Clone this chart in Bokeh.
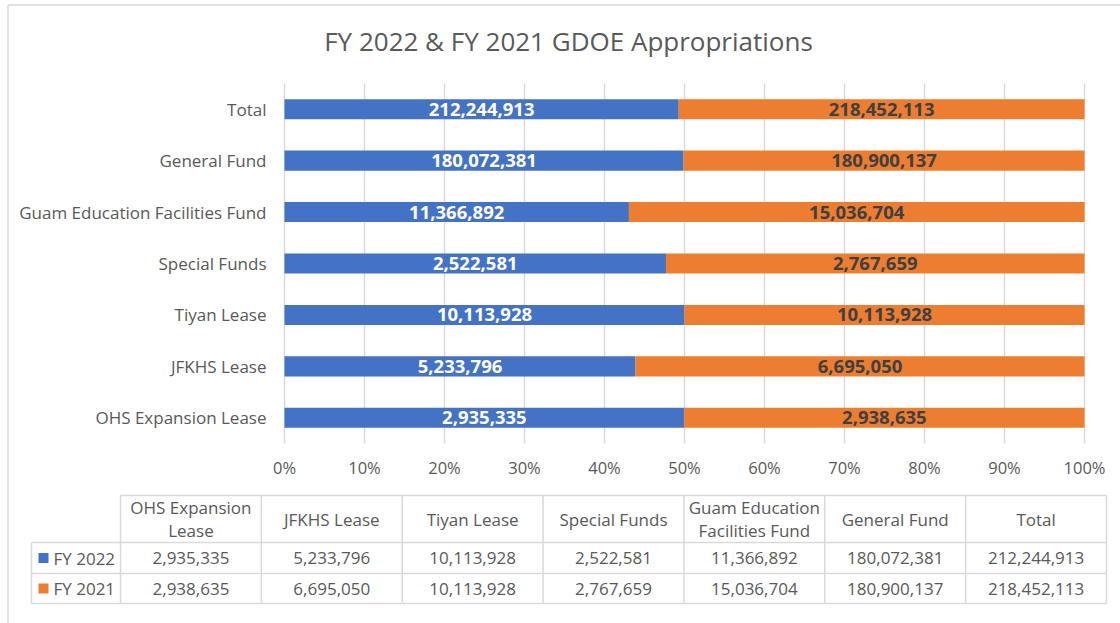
import textwrap
from bokeh.plotting import figure
from bokeh.models import ColumnDataSource, Range1d
from bokeh.core.properties import value
from bokeh.embed import file_html
from bokeh.resources import INLINE

# ---------------- data ----------------
categories = ["OHS Expansion Lease", "JFKHS Lease", "Tiyan Lease", "Special Funds",
              "Guam Education Facilities Fund", "General Fund", "Total"]
fy2022 = [2935335, 5233796, 10113928, 2522581, 11366892, 180072381, 212244913]
fy2021 = [2938635, 6695050, 10113928, 2767659, 15036704, 180900137, 218452113]
series_names = ["FY 2022", "FY 2021"]
pct_ticks = [0, 0.1, 0.2, 0.3, 0.4, 0.5, 0.6, 0.7, 0.8, 0.9, 1.0]
title_text = "FY 2022 & FY 2021 GDOE Appropriations"

# ---------------- styles ----------------
BLUE = "#4472C4"
ORANGE = "#ED7D31"
TXT = "#595959"
DARK = "#404040"
GRID = "#D9D9D9"
FONT = "Open Sans"

W, H = 1120, 623
FL, FR, FT, FB = 284, 1084, 83, 443  # plot area (pixels)
n = len(categories)
band = (FB - FT) / n


def px_x(px):
    """pixel -> share scale (0..1 spans the plot area)"""
    return (px - FL) / (FR - FL)


def px_y(py):
    """pixel -> category index scale"""
    return (FB - py) / band - 0.5


p = figure(width=W, height=H, x_range=Range1d(px_x(0), px_x(W)),
           y_range=Range1d(px_y(H), px_y(0)), output_backend="svg",
           toolbar_location=None, min_border=0)
p.axis.visible = False
p.grid.visible = False
p.outline_line_color = None
p.background_fill_color = "white"
p.border_fill_color = "white"

idx = list(range(n))
share22 = [a / (a + b) for a, b in zip(fy2022, fy2021)]
src = ColumnDataSource(dict(
    idx=idx,
    cat=categories,
    s22=share22,
    one=[1.0] * n,
    zero=[0.0] * n,
    mid22=[s / 2 for s in share22],
    mid21=[(s + 1) / 2 for s in share22],
    lab22=[f"{v:,}" for v in fy2022],
    lab21=[f"{v:,}" for v in fy2021],
))

# chart area border (left + top)
p.segment(x0=[px_x(7.5), px_x(7.5)], y0=[px_y(4.5), px_y(4.5)],
          x1=[px_x(7.5), px_x(W + 5)], y1=[px_y(H + 5), px_y(4.5)],
          line_color=GRID, line_width=1.5)

# title
p.text(x=[px_x(568)], y=[px_y(40)], text=[title_text], text_align="center",
       text_baseline="middle", text_font=value(FONT), text_font_size="26px",
       text_color=TXT)

# vertical gridlines
p.segment(x0=pct_ticks, x1=pct_ticks, y0=[-0.5] * len(pct_ticks),
          y1=[n - 0.5] * len(pct_ticks), line_color=GRID, line_width=1.5)

# bars
p.hbar(y="idx", left="zero", right="s22", height=0.39, color=BLUE, line_color=None, source=src)
p.hbar(y="idx", left="s22", right="one", height=0.39, color=ORANGE, line_color=None, source=src)

p.text(x="mid22", y="idx", text="lab22", source=src, text_align="center",
       text_baseline="middle", text_font=value(FONT), text_font_style="bold",
       text_font_size="18.5px", text_color="white")
p.text(x="mid21", y="idx", text="lab21", source=src, text_align="center",
       text_baseline="middle", text_font=value(FONT), text_font_style="bold",
       text_font_size="18.5px", text_color=DARK)

# category axis labels
p.text(x=[px_x(266)] * n, y=idx, text=categories, text_align="right",
       text_baseline="middle", text_font=value(FONT), text_font_size="17px",
       text_color=TXT)

# percentage axis labels
p.text(x=pct_ticks, y=[px_y(467)] * len(pct_ticks),
       text=[f"{round(t * 100)}%" for t in pct_ticks], text_align="center",
       text_baseline="middle", text_font=value(FONT), text_font_size="16.5px",
       text_color=TXT)

# ---------------- data table ----------------
x_leg, x0, x1 = 31, 120, 1106
y_top, y_r1, y_r2, y_bot = 495, 542, 573, 603
cw = (x1 - x0) / n
col_x = [x0 + k * cw for k in range(n + 1)]
centers = [x0 + (k + 0.5) * cw for k in range(n)]

seg = dict(x0=[], y0=[], x1=[], y1=[])


def add(a, b, c, d):
    seg["x0"].append(px_x(a)); seg["y0"].append(px_y(b))
    seg["x1"].append(px_x(c)); seg["y1"].append(px_y(d))


add(x0, y_top, x1, y_top)
for yy in (y_r1, y_r2, y_bot):
    add(x_leg, yy, x1, yy)
add(x_leg, y_r1, x_leg, y_bot)
for xx in col_x:
    add(xx, y_top, xx, y_bot)
p.segment(x0="x0", y0="y0", x1="x1", y1="y1", source=ColumnDataSource(seg),
          line_color=GRID, line_width=1.5)

# header (wrapped category names)
hx, hy, ht = [], [], []
hc = (y_top + y_r1) / 2
for c, cx in zip(categories, centers):
    lines = textwrap.wrap(c, 15)
    for j, ln in enumerate(lines):
        hx.append(px_x(cx))
        hy.append(px_y(hc + (j - (len(lines) - 1) / 2) * 23))
        ht.append(ln)
p.text(x=hx, y=hy, text=ht, text_align="center", text_baseline="middle",
       text_font=value(FONT), text_font_size="17px", text_color=TXT)

row_y = [(y_r1 + y_r2) / 2, (y_r2 + y_bot) / 2]
for vals, yy in zip((fy2022, fy2021), row_y):
    p.text(x=[px_x(c) for c in centers], y=[px_y(yy)] * n, text=[f"{v:,}" for v in vals],
           text_align="center", text_baseline="middle", text_font=value(FONT),
           text_font_size="17px", text_color=TXT)

p.scatter(x=[px_x(43)] * 2, y=[px_y(yy) for yy in row_y], marker="square", size=10,
          color=[BLUE, ORANGE], line_color=None)
p.text(x=[px_x(53)] * 2, y=[px_y(yy) for yy in row_y], text=series_names,
       text_align="left", text_baseline="middle", text_font=value(FONT),
       text_font_size="17px", text_color=TXT)

open("out.html", "w").write(file_html(p, INLINE))
